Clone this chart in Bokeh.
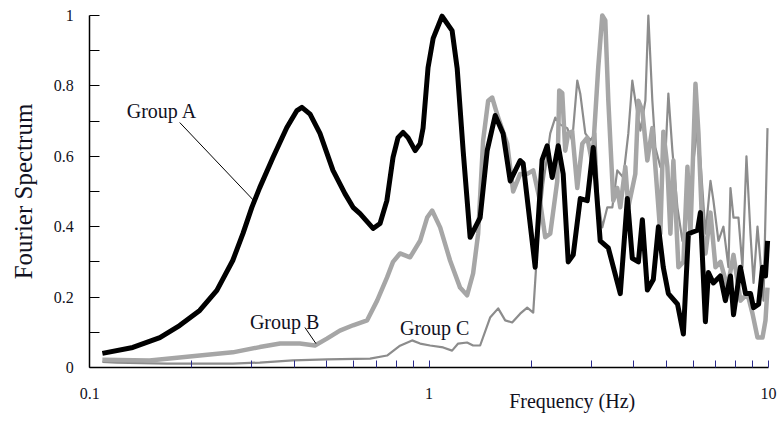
from bokeh.plotting import figure
from bokeh.models import FixedTicker, Label, Range1d
from bokeh.embed import file_html
from bokeh.resources import INLINE

# ---- data ----
freq_a = [0.109, 0.134, 0.161, 0.184, 0.211, 0.237, 0.264, 0.283, 0.3005, 0.317,
          0.347, 0.381, 0.408, 0.422, 0.446, 0.477, 0.521, 0.565, 0.597, 0.626,
          0.684, 0.717, 0.751, 0.783, 0.810, 0.838, 0.867, 0.910, 0.941, 0.960,
          0.993, 1.028, 1.092, 1.169, 1.210, 1.260, 1.321, 1.414, 1.483, 1.566,
          1.652, 1.734, 1.855, 1.893, 2.054, 2.153, 2.228, 2.305, 2.402, 2.484,
          2.570, 2.659, 2.789, 2.924, 3.046, 3.193, 3.373, 3.659, 3.839, 3.970,
          4.137, 4.250, 4.397, 4.578, 4.739, 4.898, 5.070, 5.395, 5.614, 5.808,
          6.180, 6.300, 6.518, 6.653, 6.880, 7.213, 7.464, 7.727, 7.889, 8.265,
          8.556, 8.853, 9.036, 9.354, 9.603, 9.800, 9.940]
spec_a = [0.040, 0.057, 0.085, 0.119, 0.162, 0.219, 0.304, 0.381, 0.455, 0.511,
          0.597, 0.682, 0.730, 0.739, 0.720, 0.665, 0.560, 0.494, 0.455, 0.437,
          0.395, 0.409, 0.474, 0.597, 0.653, 0.668, 0.653, 0.616, 0.636, 0.680,
          0.852, 0.935, 0.998, 0.957, 0.850, 0.616, 0.370, 0.426, 0.616, 0.716,
          0.665, 0.530, 0.588, 0.580, 0.285, 0.590, 0.630, 0.540, 0.630, 0.550,
          0.300, 0.320, 0.480, 0.474, 0.625, 0.360, 0.340, 0.210, 0.480, 0.310,
          0.300, 0.420, 0.220, 0.250, 0.400, 0.285, 0.210, 0.180, 0.095, 0.380,
          0.390, 0.440, 0.130, 0.270, 0.240, 0.260, 0.190, 0.260, 0.150, 0.285,
          0.210, 0.210, 0.170, 0.180, 0.285, 0.260, 0.360]

freq_b = [0.109, 0.150, 0.211, 0.264, 0.317, 0.364, 0.416, 0.461, 0.500, 0.546,
          0.597, 0.657, 0.703, 0.752, 0.783, 0.821, 0.879, 0.941, 0.987, 1.021,
          1.078, 1.153, 1.234, 1.294, 1.348, 1.395, 1.443, 1.493, 1.534, 1.598,
          1.699, 1.769, 1.855, 1.946, 2.027, 2.125, 2.199, 2.275, 2.386, 2.418,
          2.468, 2.519, 2.570, 2.641, 2.733, 2.828, 2.925, 3.026, 3.151, 3.238,
          3.305, 3.373, 3.489, 3.585, 3.659, 3.786, 3.864, 4.052, 4.135, 4.249,
          4.396, 4.548, 4.642, 4.802, 4.901, 5.036, 5.140, 5.246, 5.428, 5.616,
          5.770, 5.889, 6.094, 6.219, 6.390, 6.522, 6.747, 6.980, 7.222, 7.571,
          7.886, 8.268, 8.671, 8.973, 9.281, 9.601, 9.799, 9.933]
spec_b = [0.022, 0.020, 0.034, 0.043, 0.058, 0.068, 0.068, 0.0625, 0.082, 0.105,
          0.120, 0.134, 0.190, 0.256, 0.300, 0.324, 0.313, 0.360, 0.426, 0.446,
          0.398, 0.304, 0.227, 0.205, 0.267, 0.380, 0.645, 0.758, 0.767, 0.710,
          0.636, 0.500, 0.550, 0.550, 0.560, 0.470, 0.370, 0.380, 0.530, 0.787,
          0.780, 0.616, 0.665, 0.670, 0.510, 0.636, 0.653, 0.580, 0.853, 1.000,
          0.986, 0.760, 0.474, 0.510, 0.455, 0.570, 0.455, 0.550, 0.758, 0.730,
          0.588, 0.680, 0.570, 0.380, 0.670, 0.570, 0.380, 0.588, 0.285, 0.300,
          0.570, 0.380, 0.806, 0.665, 0.380, 0.324, 0.440, 0.285, 0.300, 0.227,
          0.320, 0.190, 0.210, 0.153, 0.085, 0.085, 0.134, 0.227]

freq_c = [0.109, 0.120, 0.169, 0.264, 0.317, 0.397, 0.500, 0.670, 0.752, 0.821,
          0.891, 0.941, 1.007, 1.100, 1.169, 1.218, 1.294, 1.348, 1.414, 1.513,
          1.598, 1.676, 1.757, 1.855, 1.946, 2.027, 2.097, 2.169, 2.275, 2.354,
          2.435, 2.553, 2.641, 2.733, 2.789, 2.886, 2.986, 3.089, 3.151, 3.238,
          3.351, 3.467, 3.585, 3.735, 3.864, 3.970, 4.052, 4.193, 4.338, 4.426,
          4.548, 4.642, 4.802, 4.968, 5.070, 5.210, 5.391, 5.577, 5.770, 5.889,
          6.011, 6.176, 6.302, 6.522, 6.747, 6.883, 7.120, 7.366, 7.621, 7.726,
          7.886, 8.156, 8.381, 8.611, 8.849, 9.036, 9.281, 9.471, 9.667, 9.933]
spec_c = [0.016, 0.014, 0.011, 0.011, 0.014, 0.020, 0.023, 0.025, 0.034, 0.062,
          0.077, 0.068, 0.0625, 0.057, 0.048, 0.068, 0.071, 0.0625, 0.0625, 0.142,
          0.168, 0.134, 0.128, 0.153, 0.170, 0.156, 0.380, 0.520, 0.665, 0.710,
          0.690, 0.680, 0.645, 0.815, 0.778, 0.665, 0.645, 0.665, 0.474, 0.398,
          0.455, 0.455, 0.560, 0.540, 0.665, 0.815, 0.758, 0.673, 0.758, 1.000,
          0.758, 0.625, 0.570, 0.600, 0.778, 0.616, 0.455, 0.360, 0.440, 0.494,
          0.588, 0.680, 0.588, 0.380, 0.530, 0.474, 0.360, 0.400, 0.285, 0.510,
          0.426, 0.426, 0.285, 0.600, 0.380, 0.240, 0.400, 0.300, 0.190, 0.680]

x_major = [0.1, 1, 10]
x_minor = [0.2, 0.3, 0.4, 0.5, 0.6, 0.7, 0.8, 0.9, 2, 3, 4, 5, 6, 7, 8, 9]
y_major = [0, 0.2, 0.4, 0.6, 0.8, 1.0]
y_minor = [0.1, 0.3, 0.5, 0.7, 0.9]

FONT = "Liberation Serif"
TXT = "#111122"

# The frame covers the whole canvas; both axes are pinned inside it
# (x axis at y = 0, y axis at f = 0.1) so that every text fits.
p = figure(width=780, height=422, x_axis_type="log",
           x_range=Range1d(0.054613, 10.849), y_range=Range1d(-0.15625, 1.042614),
           output_backend="svg", toolbar_location=None,
           min_border_left=0, min_border_right=0,
           min_border_top=0, min_border_bottom=0)
p.outline_line_color = None
p.grid.visible = False
p.background_fill_color = "white"
p.border_fill_color = "white"

# series
p.line(freq_c, spec_c, line_color="#8c8c8c", line_width=2.2, line_join="round")
p.line(freq_b, spec_b, line_color="#a6a6a6", line_width=4.5, line_join="round")
p.line(freq_a, spec_a, line_color="black", line_width=5, line_join="round")

# x axis
xa = p.xaxis[0]
xa.fixed_location = 0
xa.bounds = (0.1, 10)
xa.ticker = FixedTicker(ticks=x_major, minor_ticks=x_minor)
xa.major_label_overrides = {0.1: "0.1", 1: "1", 10: "10"}
xa.axis_line_color = "black"
xa.axis_line_width = 1.5
xa.major_tick_in = 7
xa.major_tick_out = 0
xa.minor_tick_in = 7
xa.minor_tick_out = 0
xa.major_tick_line_color = "#2b2b8c"
xa.minor_tick_line_color = "#2b2b8c"
xa.major_label_text_font = FONT
xa.major_label_text_font_size = "16px"
xa.major_label_text_color = TXT
xa.major_label_standoff = 20

# y axis
ya = p.yaxis[0]
ya.fixed_location = 0.1
ya.bounds = (0, 1)
ya.ticker = FixedTicker(ticks=y_major, minor_ticks=y_minor)
ya.major_label_overrides = {0: "0", 1.0: "1"}
ya.axis_line_color = "black"
ya.axis_line_width = 1.5
ya.major_tick_in = 10
ya.major_tick_out = 0
ya.minor_tick_in = 10
ya.minor_tick_out = 0
ya.major_tick_line_color = "black"
ya.minor_tick_line_color = "black"
ya.major_label_text_font = FONT
ya.major_label_text_font_size = "16px"
ya.major_label_text_color = TXT
ya.major_label_standoff = 16
ya.axis_label = "Fourier Spectrum"
ya.axis_label_text_font = FONT
ya.axis_label_text_font_size = "25px"
ya.axis_label_text_font_style = "normal"
ya.axis_label_text_color = TXT
ya.axis_label_standoff = 14

# x axis title (placed right of centre as in the reference)
p.add_layout(Label(x=2.64, y=-0.094, text="Frequency (Hz)", text_font=FONT,
                   text_font_size="20px", text_color=TXT,
                   text_align="center", text_baseline="middle"))

# group annotations with leader lines
p.add_layout(Label(x=0.1286, y=0.730, text="Group A", text_font=FONT,
                   text_font_size="20px", text_color=TXT,
                   text_align="left", text_baseline="alphabetic"))
p.line([0.1842, 0.3046], [0.696, 0.474], line_color="black", line_width=1)

p.add_layout(Label(x=0.2965, y=0.128, text="Group B", text_font=FONT,
                   text_font_size="20px", text_color=TXT,
                   text_align="left", text_baseline="alphabetic"))
p.line([0.4307, 0.4642], [0.1136, 0.068], line_color="black", line_width=1)

p.add_layout(Label(x=0.821, y=0.111, text="Group C", text_font=FONT,
                   text_font_size="20px", text_color=TXT,
                   text_align="left", text_baseline="alphabetic"))

open("out.html", "w").write(file_html(p, INLINE))
